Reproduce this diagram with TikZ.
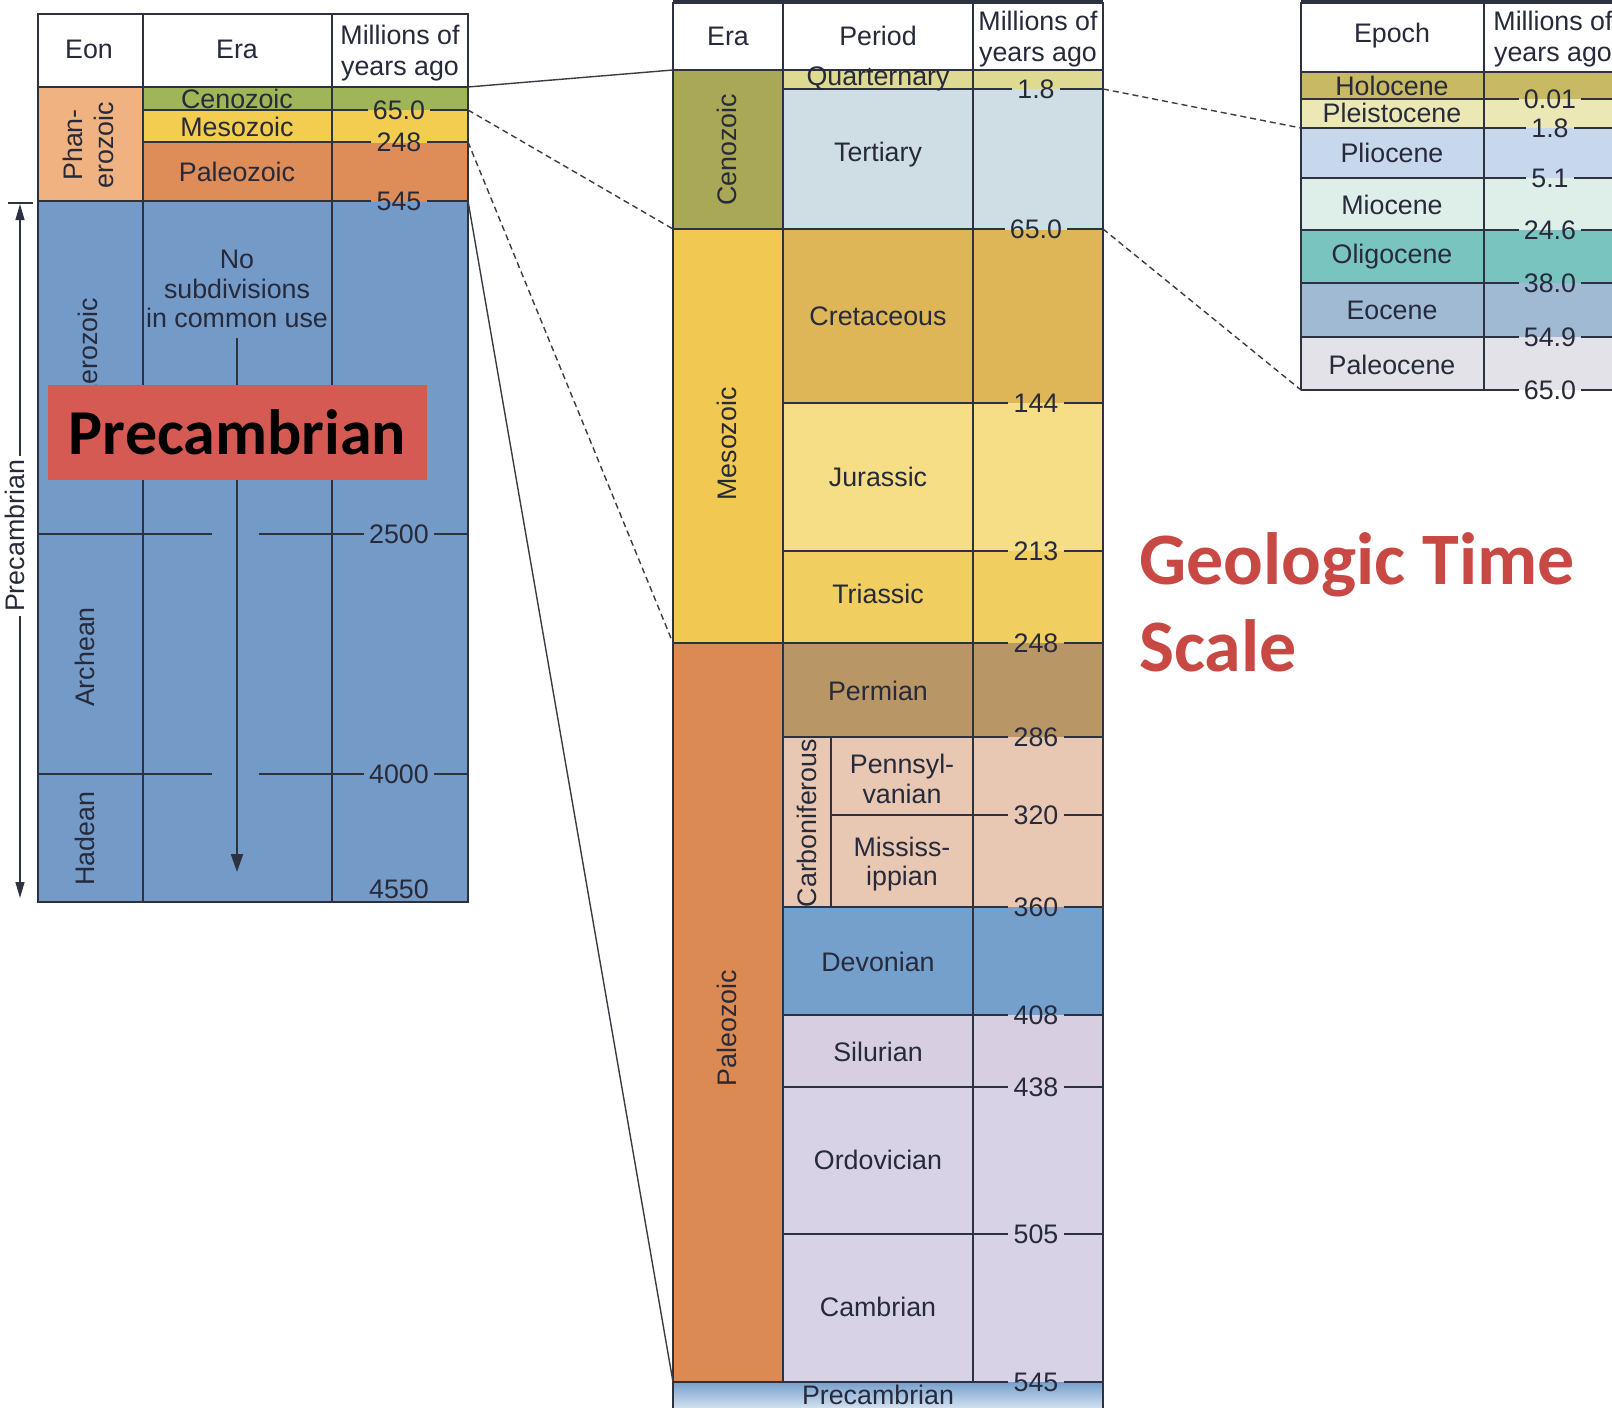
\documentclass[tikz,border=0pt]{standalone}
\usepackage{fontspec}
\setmainfont{Liberation Sans}
\newfontfamily\carlito{Carlito}
\usetikzlibrary{arrows.meta}
\definecolor{lc}{RGB}{45,50,65}
\definecolor{tc}{RGB}{38,42,58}
\definecolor{cc}{RGB}{60,60,70}
\definecolor{phanC}{RGB}{240,178,128}
\definecolor{cenL}{RGB}{160,180,88}
\definecolor{mesL}{RGB}{242,205,80}
\definecolor{palL}{RGB}{222,140,88}
\definecolor{preL}{RGB}{116,154,200}
\definecolor{cenM}{RGB}{168,168,86}
\definecolor{quart}{RGB}{222,218,145}
\definecolor{tert}{RGB}{207,222,228}
\definecolor{mesM}{RGB}{240,200,82}
\definecolor{cret}{RGB}{222,182,88}
\definecolor{jur}{RGB}{246,222,135}
\definecolor{tri}{RGB}{240,206,96}
\definecolor{palM}{RGB}{220,138,84}
\definecolor{perm}{RGB}{184,150,102}
\definecolor{carb}{RGB}{232,200,178}
\definecolor{dev}{RGB}{118,160,204}
\definecolor{sil}{RGB}{216,206,226}
\definecolor{ordc}{RGB}{216,210,230}
\definecolor{hol}{RGB}{200,186,100}
\definecolor{ple}{RGB}{236,232,182}
\definecolor{pli}{RGB}{200,216,236}
\definecolor{mio}{RGB}{222,238,232}
\definecolor{oli}{RGB}{122,196,192}
\definecolor{eoc}{RGB}{160,186,212}
\definecolor{pal}{RGB}{226,226,232}
\definecolor{redbox}{RGB}{214,90,84}
\definecolor{titlered}{RGB}{200,72,68}
\newcommand\tb{\fontsize{13.4}{15.5}\selectfont}
\newcommand\numline[6]{%
  \node[num] (#6) at (#3,#4) {#5};
  \draw[tl] (#1,#4) -- (#6.west);
  \draw[tl] (#6.east) -- (#2,#4);}
\tikzset{
  tl/.style={draw=lc, line width=0.9pt},
  tk/.style={draw=lc, line width=1.8pt},
  lab/.style={font=\tb, text=tc, inner sep=0pt, align=center},
  vlab/.style={lab, rotate=90},
  num/.style={font=\tb, text=tc, inner xsep=2.5pt, inner ysep=0pt},
  dsh/.style={draw=cc, line width=0.7pt, dash pattern=on 3pt off 2pt},
  sol/.style={draw=cc, line width=0.7pt},
  ttl/.style={font=\carlito\bfseries\fontsize{37}{44}\selectfont, text=titlered, inner sep=0pt, anchor=base west},
}
\begin{document}
\begin{tikzpicture}[x=0.5pt,y=-0.5pt]
\useasboundingbox[fill=white] (0,0) rectangle (1612,1408);

% ================= LEFT TABLE =================
\fill[white] (38,14) rectangle (468,87);
\fill[phanC] (38,87) rectangle (143,202);
\fill[cenL] (143,87) rectangle (468,110);
\fill[mesL] (143,110) rectangle (468,143);
\fill[palL] (143,143) rectangle (468,202);
\fill[preL] (38,202) rectangle (468,902);
\draw[tl] (38,14) rectangle (468,902);
\draw[tl] (143,14) -- (143,902);
\draw[tl] (332,14) -- (332,902);
\draw[tl] (38,87) -- (468,87);
\numline{143}{468}{399}{110}{65.0}{nLa}
\numline{143}{468}{399}{142}{248}{nLb}
\numline{38}{468}{399}{201}{545}{nLc}
\draw[tl] (38,534) -- (212,534);
\numline{259}{468}{399}{534}{2500}{nLd}
\draw[tl] (38,774) -- (212,774);
\numline{259}{468}{399}{774}{4000}{nLe}
\node[num] (nLf) at (399,889) {4550};

\node[lab] (hEon) at (89,49) {Eon};
\node[lab] (hEraL) at (237,49) {Era};
\node[lab] (hMyL) at (400,53) {Millions of\\years ago};
\node[vlab] (phan) at (88,145) {Phan-\\erozoic};
\node[vlab] (prot) at (88,366) {Proterozoic};
\node[vlab] (arch) at (85,657) {Archean};
\node[vlab] (hade) at (85,839) {Hadean};
\node[lab] (cenoL) at (237,99) {Cenozoic};
\node[lab] (mesoL) at (237,127) {Mesozoic};
\node[lab] (paleoL) at (237,172) {Paleozoic};
\node[font=\fontsize{13.4}{14.6}\selectfont, text=tc, align=center, inner xsep=0pt, inner ysep=5pt] (nosub) at (237,289) {No\\subdivisions\\in common use};
\coordinate (arrEnd) at (237,872);
\draw[tl, line width=1.1pt, -{Triangle[length=9pt,width=6pt]}] (nosub.south) -- (arrEnd);

% red box
\node[fill=redbox, minimum width=189.5pt, minimum height=47.5pt, inner sep=0pt,
      font=\carlito\bfseries\fontsize{32}{36}\selectfont, text=black] (pcbox) at (237.5,432) {Precambrian};

% side Precambrian arrow
\draw[lc, line width=0.6pt] (8,203) -- (33,203);
\coordinate (pcTop) at (20,204);
\coordinate (pcBot) at (20,898);
\draw[lc, line width=0.6pt, {Triangle[length=8pt,width=4.5pt]}-{Triangle[length=8pt,width=4.5pt]}] (pcTop) -- (pcBot);
\node[vlab, fill=white, inner xsep=2pt, inner ysep=1pt] (pcSide) at (15,536) {Precambrian};

% ================= MIDDLE TABLE =================
\fill[white] (673,2) rectangle (1103,70);
\fill[cenM] (673,70) rectangle (783,230);
\fill[mesM] (673,230) rectangle (783,643);
\fill[palM] (673,643) rectangle (783,1382);
\fill[quart] (783,70) rectangle (1103,89);
\fill[tert] (783,89) rectangle (1103,230);
\fill[cret] (783,230) rectangle (1103,403);
\fill[jur] (783,403) rectangle (1103,551);
\fill[tri] (783,551) rectangle (1103,643);
\fill[perm] (783,643) rectangle (1103,737);
\fill[carb] (783,737) rectangle (1103,907);
\fill[dev] (783,907) rectangle (1103,1015);
\fill[sil] (783,1015) rectangle (1103,1087);
\fill[ordc] (783,1087) rectangle (1103,1382);
\shade[top color=dev, bottom color=white] (673,1382) rectangle (1103,1420);
\draw[tl] (673,2) -- (673,1420);
\draw[tl] (1103,2) -- (1103,1420);
\draw[tk] (673,2) -- (1103,2);
\draw[tl] (783,2) -- (783,1382);
\draw[tl] (973,2) -- (973,1382);
\draw[tl] (831,737) -- (831,907);
\draw[tl] (673,70) -- (1103,70);
\numline{783}{1103}{1036}{89}{1.8}{nMa}
\numline{673}{1103}{1036}{229}{65.0}{nMb}
\numline{783}{1103}{1036}{403}{144}{nMc}
\numline{783}{1103}{1036}{551}{213}{nMd}
\numline{673}{1103}{1036}{643}{248}{nMe}
\numline{783}{1103}{1036}{737}{286}{nMf}
\numline{831}{1103}{1036}{815}{320}{nMg}
\numline{783}{1103}{1036}{907}{360}{nMh}
\numline{783}{1103}{1036}{1015}{408}{nMi}
\numline{783}{1103}{1036}{1087}{438}{nMj}
\numline{783}{1103}{1036}{1234}{505}{nMk}
\numline{673}{1103}{1036}{1382}{545}{nMl}

\node[lab] (hEraM) at (728,36) {Era};
\node[lab] (hPer) at (878,36) {Period};
\node[lab] (hMyM) at (1038,39) {Millions of\\years ago};
\node[vlab] (cenoM) at (727,150) {Cenozoic};
\node[vlab] (mesoM) at (727,444) {Mesozoic};
\node[vlab] (paleoM) at (727,1028) {Paleozoic};
\node[vlab] (carbo) at (807,823) {Carboniferous};
\node[lab] (pQ) at (878,79) {Quarternary};
\node[lab] (pT) at (878,155) {Tertiary};
\node[lab] (pK) at (878,316) {Cretaceous};
\node[lab] (pJ) at (878,477) {Jurassic};
\node[lab] (pTr) at (878,594) {Triassic};
\node[lab] (pP) at (878,691) {Permian};
\node[lab, font=\fontsize{13.4}{14.8}\selectfont] (pPe) at (902,779) {Pennsyl-\\vanian};
\node[lab, font=\fontsize{13.4}{14.8}\selectfont] (pMi) at (902,864) {Mississ-\\ippian};
\node[lab] (pD) at (878,962) {Devonian};
\node[lab] (pS) at (878,1052) {Silurian};
\node[lab] (pO) at (878,1160) {Ordovician};
\node[lab] (pC) at (878,1307) {Cambrian};
\node[lab] (pPre) at (878,1395) {Precambrian};

% ================= RIGHT TABLE =================
\fill[white] (1301,2) rectangle (1640,72);
\fill[hol] (1301,72) rectangle (1640,99);
\fill[ple] (1301,99) rectangle (1640,128);
\fill[pli] (1301,128) rectangle (1640,178);
\fill[mio] (1301,178) rectangle (1640,230);
\fill[oli] (1301,230) rectangle (1640,283);
\fill[eoc] (1301,283) rectangle (1640,337);
\fill[pal] (1301,337) rectangle (1640,390);
\draw[tl] (1301,2) -- (1301,390);
\draw[tl] (1484,2) -- (1484,390);
\draw[tk] (1301,2) -- (1640,2);
\draw[tl] (1301,72) -- (1640,72);
\numline{1301}{1640}{1550}{99}{0.01}{nRa}
\numline{1301}{1640}{1550}{128}{1.8}{nRb}
\numline{1301}{1640}{1550}{178}{5.1}{nRc}
\numline{1301}{1640}{1550}{230}{24.6}{nRd}
\numline{1301}{1640}{1550}{283}{38.0}{nRe}
\numline{1301}{1640}{1550}{337}{54.9}{nRf}
\numline{1301}{1640}{1550}{390}{65.0}{nRg}
\node[lab] (hEp) at (1392,36) {Epoch};
\node[lab] (hMyR) at (1553,39) {Millions of\\years ago};
\node[lab] (eH) at (1392,86) {Holocene};
\node[lab] (ePl) at (1392,113) {Pleistocene};
\node[lab] (ePli) at (1392,153) {Pliocene};
\node[lab] (eMi) at (1392,205) {Miocene};
\node[lab] (eOl) at (1392,257) {Oligocene};
\node[lab] (eEo) at (1392,310) {Eocene};
\node[lab] (ePa) at (1392,365) {Paleocene};

% ================= CONNECTORS =================
\coordinate (Lh) at (468,87);   \coordinate (Mh) at (673,70);
\coordinate (La) at (468,110);  \coordinate (Ma) at (673,229);
\coordinate (Lb) at (468,142);  \coordinate (Mb) at (673,643);
\coordinate (Lc) at (468,201);  \coordinate (Mc) at (673,1382);
\coordinate (Md) at (1103,89);  \coordinate (Rd) at (1301,128);
\coordinate (Me) at (1103,229); \coordinate (Re) at (1301,390);
\draw[sol] (Lh) -- (Mh);
\draw[dsh] (La) -- (Ma);
\draw[dsh] (Lb) -- (Mb);
\draw[sol] (Lc) -- (Mc);
\draw[dsh] (Md) -- (Rd);
\draw[dsh] (Me) -- (Re);

% ================= TITLE =================
\node[ttl] (t1) at (1139,584) {Geologic Time};
\node[ttl] (t2) at (1139,671) {Scale};
\end{tikzpicture}
\end{document}
